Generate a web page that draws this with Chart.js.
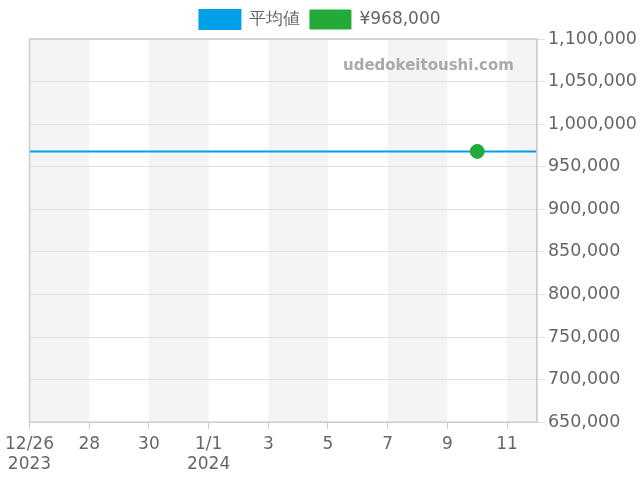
<!DOCTYPE html>
<html>
<head>
<meta charset="utf-8">
<script src="https://cdn.jsdelivr.net/npm/chart.js@4/dist/chart.umd.min.js"></script>
<style>
  html, body { margin: 0; padding: 0; background: #fff; }
  #wrap { width: 640px; height: 480px; }
</style>
</head>
<body>
<div id="wrap"><canvas id="priceChart"></canvas></div>
<script>
// days counted from 2023-12-26
const tickLabels = [
    ['12/26', '2023'], '28', '30', ['1/1', '2024'], '3', '5', '7', '9', '11'
];
const dayRange = [0, 17];
const averagePrice = 968000;
const priceDays = [15];
const prices = [968000];
const yTicks = [650000, 1100000, 50000];

const averageData = dayRange.map(d => ({x: d, y: averagePrice}));
const priceData = priceDays.map((d, i) => ({x: d, y: prices[i]}));

const backgroundBands = {
    id: 'backgroundBands',
    beforeDraw(chart) {
        const {ctx, chartArea, scales} = chart;
        const x = scales.x;
        ctx.save();
        ctx.fillStyle = '#f4f4f4';
        for (let d = x.min; d < x.max; d += 4) {
            const left = x.getPixelForValue(d);
            const right = x.getPixelForValue(Math.min(d + 2, x.max));
            ctx.fillRect(left, chartArea.top, right - left, chartArea.bottom - chartArea.top);
        }
        ctx.restore();
    },
    afterDraw(chart) {
        const {ctx, chartArea} = chart;
        ctx.save();
        ctx.strokeStyle = '#cccccc';
        ctx.lineWidth = 1.5;
        ctx.strokeRect(chartArea.left, chartArea.top, chartArea.right - chartArea.left, chartArea.bottom - chartArea.top);
        ctx.font = 'bold 15px "DejaVu Sans"';
        ctx.fillStyle = '#aaaaaa';
        ctx.textAlign = 'right';
        ctx.textBaseline = 'middle';
        ctx.fillText('udedokeitoushi.com', chartArea.right - 23, chartArea.top + 27);
        ctx.restore();
    }
};

const ctx = document.getElementById('priceChart').getContext('2d');
new Chart(ctx, {
    type: 'scatter',
    data: {
        datasets: [{
            label: '¥968,000',
            data: priceData,
            borderColor: '#22ab38',
            backgroundColor: '#22ab38',
            pointRadius: 7,
            pointHoverRadius: 7
        }, {
            label: '平均値',
            data: averageData,
            showLine: true,
            borderColor: '#00a0e9',
            backgroundColor: '#00a0e9',
            borderWidth: 2,
            pointRadius: 0
        }]
    },
    options: {
        responsive: true,
        maintainAspectRatio: false,
        animation: false,
        layout: {
            padding: {left: 0, right: 0, top: 0, bottom: 0}
        },
        scales: {
            x: {
                type: 'linear',
                min: dayRange[0],
                max: dayRange[1],
                ticks: {
                    stepSize: 2,
                    maxRotation: 0,
                    autoSkip: false,
                    padding: 5,
                    color: '#666',
                    font: {family: 'DejaVu Sans', size: 17},
                    callback: (v) => tickLabels[v / 2]
                },
                grid: {
                    drawOnChartArea: false,
                    drawTicks: true,
                    tickLength: 7,
                    color: '#cccccc'
                },
                border: {color: '#cccccc'}
            },
            y: {
                position: 'right',
                min: yTicks[0],
                max: yTicks[1],
                ticks: {
                    stepSize: yTicks[2],
                    color: '#666',
                    font: {family: 'DejaVu Sans', size: 17.5},
                    callback: (v) => v.toLocaleString('en-US')
                },
                grid: {
                    color: '#e0e0e0',
                    tickLength: 8
                },
                border: {color: '#cccccc'}
            }
        },
        plugins: {
            legend: {
                labels: {
                    color: '#666',
                    boxWidth: 41,
                    boxHeight: 19,
                    font: {family: 'DejaVu Sans', size: 17},
                    sort: (a, b) => b.datasetIndex - a.datasetIndex
                }
            },
            tooltip: {enabled: false}
        }
    },
    plugins: [backgroundBands]
});
</script>
</body>
</html>
